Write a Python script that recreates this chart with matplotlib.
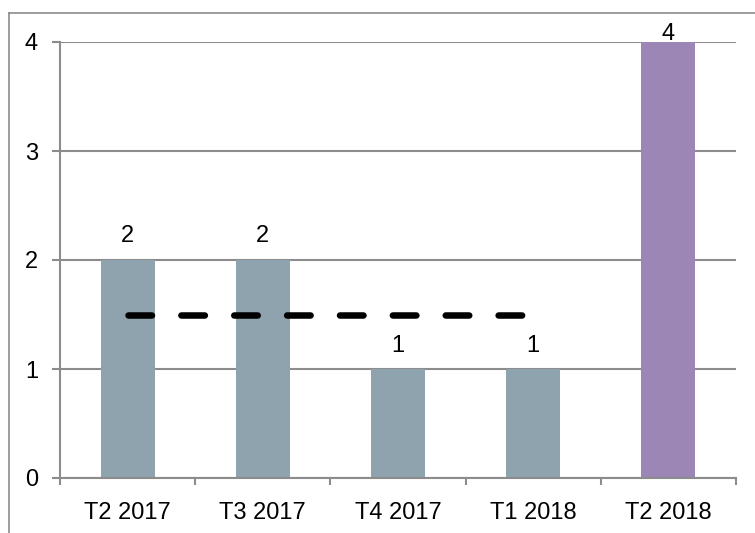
import matplotlib.pyplot as plt
from matplotlib.lines import Line2D
import numpy as np

# chart data
categories = ["T2 2017", "T3 2017", "T4 2017", "T1 2018", "T2 2018"]
values = [2, 2, 1, 1, 4]
average = [1.5, 1.5, 1.5, 1.5, np.nan]

bar_color = "#8FA3AE"
last_color = "#9B86B6"
grid_color = "#8C8C8C"

plt.rcParams["font.family"] = ["Liberation Sans", "DejaVu Sans"]

fig = plt.figure(figsize=(7.55, 5.33), dpi=100)
ax = fig.add_axes([60 / 755, 55 / 533, 676 / 755, 436 / 533])

# outer chart frame (only top and left visible)
fig.add_artist(Line2D([9 / 755, 1], [1 - 13 / 533, 1 - 13 / 533],
                      transform=fig.transFigure, color=grid_color, lw=1.2))
fig.add_artist(Line2D([9 / 755, 9 / 755], [0, 1 - 13 / 533],
                      transform=fig.transFigure, color=grid_color, lw=1.2))

x = np.arange(len(categories))
colors = [bar_color] * (len(values) - 1) + [last_color]
ax.bar(x, values, width=0.4, color=colors, zorder=2)

ax.plot(x, average, color="black", lw=4.7, linestyle=(0, (3.6, 4.5)),
        dash_capstyle="round", zorder=3)

# value labels
for xi, v in zip(x, values):
    if v >= 4:
        ax.annotate(str(v), (xi, v), xytext=(0, -2), textcoords="offset points",
                    ha="center", va="bottom", fontsize=17)
    else:
        ax.annotate(str(v), (xi, v), xytext=(0, 9), textcoords="offset points",
                    ha="center", va="bottom", fontsize=17)

ax.set_xlim(-0.5, len(categories) - 0.5)
ax.set_ylim(0, 4)
ax.set_yticks([0, 1, 2, 3, 4])
ax.set_xticks(x)
ax.set_xticklabels(categories)
ax.set_xticks(np.arange(-0.5, len(categories)), minor=True)
ax.yaxis.grid(True, color=grid_color, lw=1.5, zorder=0)

for side in ["top", "right"]:
    ax.spines[side].set_visible(False)
for side in ["left", "bottom"]:
    ax.spines[side].set_color(grid_color)
    ax.spines[side].set_linewidth(1.5)

ax.tick_params(axis="y", length=5.8, width=1.5, color=grid_color,
               labelsize=17, pad=10)
ax.tick_params(axis="x", which="major", length=0, labelsize=17, pad=17)
ax.tick_params(axis="x", which="minor", length=5, width=1.5, color=grid_color)

plt.savefig("out.png")
